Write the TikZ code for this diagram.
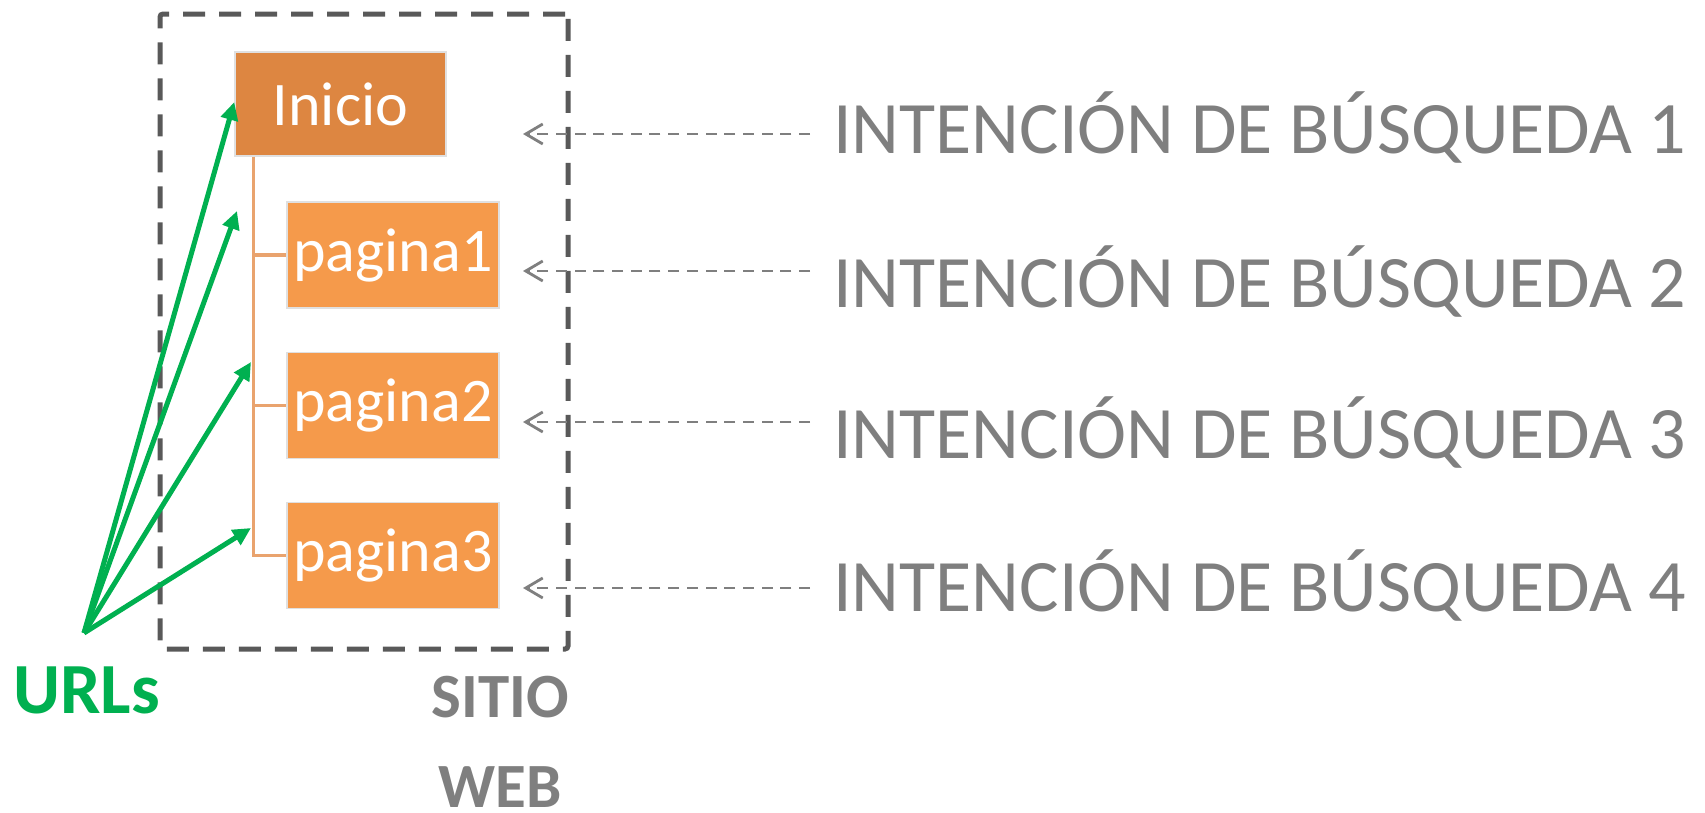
\documentclass[tikz,border=0pt]{standalone}
\usepackage{fontspec}
\setmainfont{Carlito}
\usetikzlibrary{arrows.meta}
\definecolor{inicioC}{HTML}{DD8641}
\definecolor{pagC}{HTML}{F59A4B}
\definecolor{lineC}{HTML}{E9A36E}
\definecolor{greenC}{HTML}{00B050}
\definecolor{grayT}{HTML}{7F7F7F}
\definecolor{boxD}{HTML}{595959}
\tikzset{
  pagebox/.style={rectangle, draw=black!12, line width=1.5pt, text=white, inner sep=0pt,
    minimum width=212pt, minimum height=106pt, font=\fontsize{62}{62}\selectfont},
  tree/.style={draw=lineC, line width=3.3pt},
  garrow/.style={draw=greenC, line width=5pt, -{Triangle[length=18pt,width=17pt]}},
  gdash/.style={draw=grayT, line width=2.8pt, dash pattern=on 11pt off 7.7pt, -{Straight Barb[length=17pt,width=20pt]}},
  intent/.style={anchor=base west, inner sep=0pt, text=grayT, font=\fontsize{74}{74}\selectfont},
  webtext/.style={anchor=base, inner sep=0pt, text=grayT, font=\fontsize{63}{63}\selectfont\bfseries},
}
\begin{document}
\begin{tikzpicture}[x=1pt,y=-1pt]
\useasboundingbox (0,0) rectangle (1705,812);
% dashed frame
\node[draw=boxD, line width=5pt, dash pattern=on 22pt off 14pt, rounded corners=3pt,
  minimum width=408pt, minimum height=635pt, inner sep=0pt] (sitio) at (364,331.5) {};
% boxes
\node[pagebox, fill=inicioC, minimum width=211pt, minimum height=104pt] (inicio) at (340.5,104) {Inicio};
\node[pagebox, fill=pagC] (p1) at (393,255) {pagina1};
\node[pagebox, fill=pagC] (p2) at (393,405.5) {pagina2};
\node[pagebox, fill=pagC] (p3) at (393,555.5) {pagina3};
% tree
\draw[tree] ([xshift=19pt]inicio.south west) |- (p1.west);
\draw[tree] ([xshift=19pt]inicio.south west) |- (p2.west);
\draw[tree] ([xshift=19pt]inicio.south west) |- (p3.west);
% green arrows
\coordinate (url) at (84,633);
\coordinate (t2) at (237,211);
\coordinate (t3) at (251,362);
\coordinate (t4) at (251,528);
\draw[garrow] (url) -- ([yshift=2pt]inicio.west);
\draw[garrow] (url) -- (t2);
\draw[garrow] (url) -- (t3);
\draw[garrow] (url) -- (t4);
\node[anchor=base west, inner sep=0pt, text=greenC, font=\fontsize{72}{72}\selectfont\bfseries] (urls) at (13,713) {URLs};
\node[webtext] (sitiotxt) at (500,717) {SITIO};
\node[webtext] (webtxt) at (500,807) {WEB};
% intentions
\node[intent] (i1) at (833,153) {INTENCIÓN DE BÚSQUEDA 1};
\node[intent] (i2) at (833,307) {INTENCIÓN DE BÚSQUEDA 2};
\node[intent] (i3) at (833,458) {INTENCIÓN DE BÚSQUEDA 3};
\node[intent] (i4) at (833,611) {INTENCIÓN DE BÚSQUEDA 4};
\coordinate (s1) at (810,134); \coordinate (e1) at (523,134);
\coordinate (s2) at (810,271); \coordinate (e2) at (523,271);
\coordinate (s3) at (810,422); \coordinate (e3) at (523,422);
\coordinate (s4) at (810,588); \coordinate (e4) at (523,588);
\draw[gdash] (s1) -- (e1);
\draw[gdash] (s2) -- (e2);
\draw[gdash] (s3) -- (e3);
\draw[gdash] (s4) -- (e4);
\end{tikzpicture}
\end{document}
